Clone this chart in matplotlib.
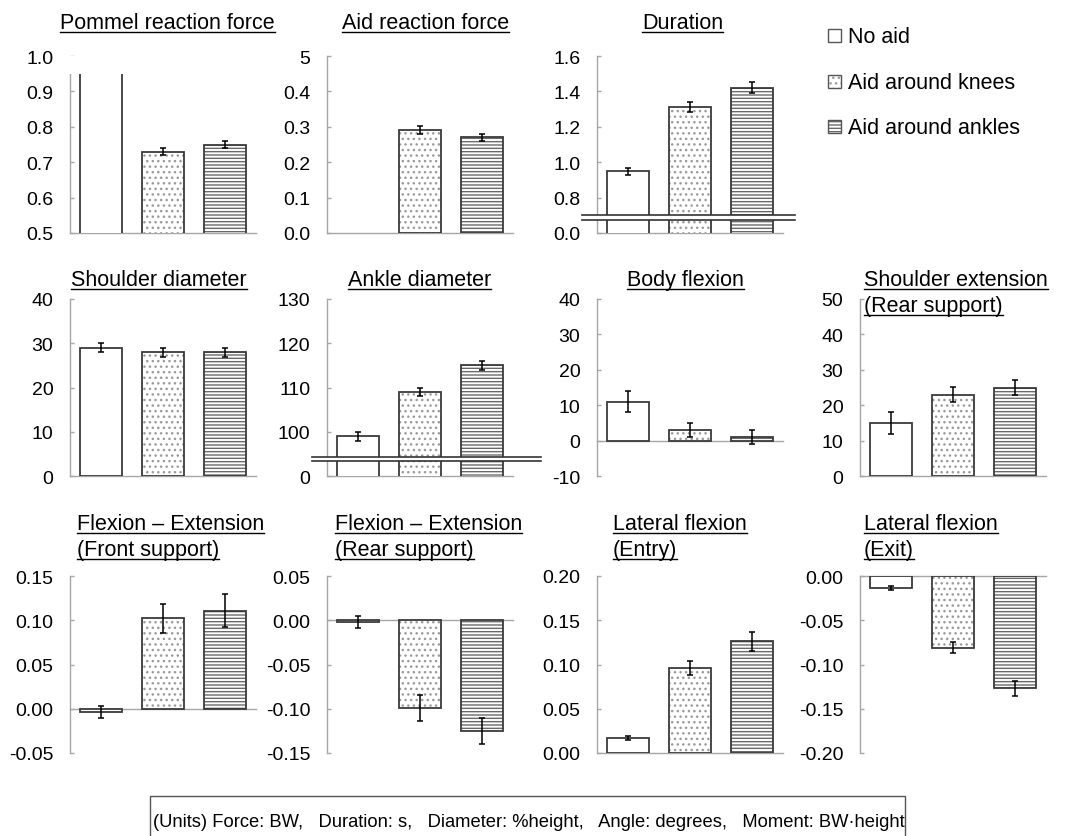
import numpy as np
import matplotlib
matplotlib.use("Agg")
import matplotlib.pyplot as plt
from matplotlib.patches import Rectangle
from matplotlib.lines import Line2D
import matplotlib.transforms as mtransforms

plt.rcParams['font.family'] = ['Liberation Sans', 'DejaVu Sans']
plt.rcParams['hatch.linewidth'] = 1.0

W, H = 1067, 837

# ---------------- data ----------------
conditions = ['No aid', 'Aid around knees', 'Aid around ankles']

pommel_mean = [1.20, 0.73, 0.75]
pommel_err = [np.nan, 0.010, 0.011]
aid_mean = [np.nan, 0.29, 0.27]
aid_err = [np.nan, 0.011, 0.011]
duration_mean = [0.95, 1.31, 1.42]
duration_err = [0.020, 0.028, 0.031]
shoulder_diam_mean = [29.0, 28.0, 28.0]
shoulder_diam_err = [1.0, 1.0, 1.0]
ankle_diam_mean = [99.0, 109.0, 115.0]
ankle_diam_err = [1.0, 1.0, 1.0]
body_flex_mean = [11.0, 3.0, 1.0]
body_flex_err = [3.0, 2.1, 2.0]
shoulder_ext_mean = [15.0, 23.0, 25.0]
shoulder_ext_err = [3.0, 2.1, 2.0]
fe_front_mean = [-0.004, 0.102, 0.111]
fe_front_err = [0.007, 0.016, 0.0185]
fe_rear_mean = [-0.002, -0.099, -0.125]
fe_rear_err = [0.007, 0.015, 0.015]
lat_entry_mean = [0.017, 0.096, 0.126]
lat_entry_err = [0.002, 0.008, 0.0105]
lat_exit_mean = [-0.0135, -0.081, -0.127]
lat_exit_err = [0.0025, 0.006, 0.0083]

pommel_ticks = [0.5, 0.6, 0.7, 0.8, 0.9, 1.0]
pommel_labels = ['0.5', '0.6', '0.7', '0.8', '0.9', '1.0']
aid_ticks = [0.0, 0.1, 0.2, 0.3, 0.4, 0.5]
aid_labels = ['0.0', '0.1', '0.2', '0.3', '0.4', '5']
duration_ticks = [0.6, 0.8, 1.0, 1.2, 1.4, 1.6]
duration_labels = ['0.0', '0.8', '1.0', '1.2', '1.4', '1.6']
shoulder_diam_ticks = [0, 10, 20, 30, 40]
shoulder_diam_labels = ['0', '10', '20', '30', '40']
ankle_diam_ticks = [90, 100, 110, 120, 130]
ankle_diam_labels = ['0', '100', '110', '120', '130']
body_flex_ticks = [-10, 0, 10, 20, 30, 40]
body_flex_labels = ['-10', '0', '10', '20', '30', '40']
shoulder_ext_ticks = [0, 10, 20, 30, 40, 50]
shoulder_ext_labels = ['0', '10', '20', '30', '40', '50']
fe_front_ticks = [-0.05, 0.0, 0.05, 0.10, 0.15]
fe_front_labels = ['-0.05', '0.00', '0.05', '0.10', '0.15']
fe_rear_ticks = [-0.15, -0.10, -0.05, 0.0, 0.05]
fe_rear_labels = ['-0.15', '-0.10', '-0.05', '0.00', '0.05']
lat_entry_ticks = [0.0, 0.05, 0.10, 0.15, 0.20]
lat_entry_labels = ['0.00', '0.05', '0.10', '0.15', '0.20']
lat_exit_ticks = [-0.20, -0.15, -0.10, -0.05, 0.0]
lat_exit_labels = ['-0.20', '-0.15', '-0.10', '-0.05', '0.00']

panels = [
    # title lines, mean, err, ticks, labels, row, col, title left px, title baseline px
    (['Pommel reaction force'], pommel_mean, pommel_err, pommel_ticks, pommel_labels, 0, 0, 60, 29),
    (['Aid reaction force'], aid_mean, aid_err, aid_ticks, aid_labels, 0, 1, 342, 29),
    (['Duration'], duration_mean, duration_err, duration_ticks, duration_labels, 0, 2, 642, 29),
    (['Shoulder diameter'], shoulder_diam_mean, shoulder_diam_err, shoulder_diam_ticks, shoulder_diam_labels, 1, 0, 71, 286),
    (['Ankle diameter'], ankle_diam_mean, ankle_diam_err, ankle_diam_ticks, ankle_diam_labels, 1, 1, 348, 286),
    (['Body flexion'], body_flex_mean, body_flex_err, body_flex_ticks, body_flex_labels, 1, 2, 627, 286),
    (['Shoulder extension', '(Rear support)'], shoulder_ext_mean, shoulder_ext_err, shoulder_ext_ticks, shoulder_ext_labels, 1, 3, 864, 286),
    (['Flexion \u2013 Extension', '(Front support)'], fe_front_mean, fe_front_err, fe_front_ticks, fe_front_labels, 2, 0, 77, 530),
    (['Flexion \u2013 Extension', '(Rear support)'], fe_rear_mean, fe_rear_err, fe_rear_ticks, fe_rear_labels, 2, 1, 335, 530),
    (['Lateral flexion', '(Entry)'], lat_entry_mean, lat_entry_err, lat_entry_ticks, lat_entry_labels, 2, 2, 613, 530),
    (['Lateral flexion', '(Exit)'], lat_exit_mean, lat_exit_err, lat_exit_ticks, lat_exit_labels, 2, 3, 864, 530),
]

# ---------------- layout ----------------
col_left = [70, 327, 597, 860]
ax_w = 186
row_top = [57, 300, 577]
ax_h = 177

fills = ['white', 'white', 'white']
hatches = [None, '...', '-----']
hatch_colors = ['#333333', '#9a9a9a', '#6a6a6a']
edge_col = '#3a3a3a'
axis_col = '#a6a6a6'
TICK_FS = 14
TITLE_FS = 15.5

fig = plt.figure(figsize=(W / 100, H / 100), dpi=100)


def fx(x):
    return x / W


def fy(y):
    return 1 - y / H


title_texts = []
axes = []
for (tlines, mean, err, ticks, labels, r, c, tx, ty) in panels:
    left = col_left[c]
    top = row_top[r]
    ax = fig.add_axes([fx(left), fy(top + ax_h), ax_w / W, ax_h / H])
    axes.append(ax)
    x = np.arange(3)
    for i in range(3):
        ax.bar(x[i], mean[i], width=0.68, color=fills[i], hatch=hatches[i],
               edgecolor=hatch_colors[i], linewidth=0, zorder=2)
        ax.bar(x[i], mean[i], width=0.68, facecolor='none',
               edgecolor=edge_col, linewidth=1.3, zorder=3)
    ax.errorbar(x, mean, yerr=err, fmt='none', ecolor='black', elinewidth=1.1,
                capsize=2.0, capthick=1.1, zorder=4)
    ax.set_xlim(-0.5, 2.5)
    ax.set_ylim(ticks[0], ticks[-1])
    ax.set_yticks(ticks)
    ax.set_yticklabels(labels)
    ax.set_xticks([])
    for s in ['top', 'right', 'bottom']:
        ax.spines[s].set_visible(False)
    ax.spines['left'].set_color(axis_col)
    ax.spines['left'].set_linewidth(1.0)
    ax.tick_params(axis='y', direction='in', length=3, width=1, color=axis_col,
                   labelsize=TICK_FS, pad=12)
    base = 0.0 if ticks[0] <= 0 <= ticks[-1] else ticks[0]
    ax.axhline(base, color=axis_col, linewidth=1.0, zorder=1.5, clip_on=False)
    ax.patch.set_alpha(0)
    # titles
    for k, line in enumerate(tlines):
        t = fig.text(fx(tx), fy(ty + k * 26), line, fontsize=TITLE_FS,
                     ha='left', va='baseline')
        title_texts.append((t, ty + k * 26))

# Pommel panel: the bar runs off the top of the plot
ax0 = axes[0]
ax0.axhspan(0.95, 1.0, facecolor='white', edgecolor='none', zorder=5)
ax0.spines['left'].set_bounds(0.5, 0.95)

# axis breaks
def axis_break(ax, y_lo, y_hi, x0, x1):
    tr = mtransforms.blended_transform_factory(ax.transAxes, ax.transData)
    ax.fill_between([x0, x1], [y_lo, y_lo], [y_hi, y_hi], color='white',
                    transform=tr, zorder=6, clip_on=False, linewidth=0)
    for yy in (y_lo, y_hi):
        ax.plot([x0, x1], [yy, yy], color='#333333', linewidth=1.2,
                transform=tr, zorder=7, clip_on=False)

axis_break(axes[2], 0.675, 0.702, -0.08, 1.065)
axis_break(axes[4], 93.4, 94.4, -0.08, 1.15)

# ---------------- legend ----------------
leg_y = [29, 75, 120]
for i, name in enumerate(conditions):
    ry = leg_y[i]
    rect = Rectangle((fx(828), fy(ry + 14)), 13 / W, 13 / H, transform=fig.transFigure,
                     facecolor='white', hatch=hatches[i], edgecolor=hatch_colors[i],
                     linewidth=0)
    fig.patches.append(rect)
    rect2 = Rectangle((fx(828), fy(ry + 14)), 13 / W, 13 / H, transform=fig.transFigure,
                      facecolor='none', edgecolor='#555555', linewidth=1.0)
    fig.patches.append(rect2)
    fig.text(fx(848), fy(ry + 14), name, fontsize=TITLE_FS, ha='left', va='baseline')

# ---------------- units box ----------------
box = Rectangle((fx(150), fy(850)), (905 - 150) / W, (850 - 797) / H,
                transform=fig.transFigure, facecolor='none', edgecolor='#555555',
                linewidth=1.0, clip_on=False)
fig.patches.append(box)
fig.text(fx(153), fy(827),
         '(Units) Force: BW,   Duration: s,   Diameter: %height,   Angle: degrees,   Moment: BW\u00b7height',
         fontsize=13.2, ha='left', va='baseline')

# ---------------- underlines ----------------
fig.canvas.draw()
renderer = fig.canvas.get_renderer()
for t, ybase in title_texts:
    bb = t.get_window_extent(renderer)
    yline = fy(ybase + 3.5)
    fig.add_artist(Line2D([bb.x0 / W, bb.x1 / W], [yline, yline],
                          transform=fig.transFigure, color='black', linewidth=1.0))

fig.savefig('out.png', dpi=100)
